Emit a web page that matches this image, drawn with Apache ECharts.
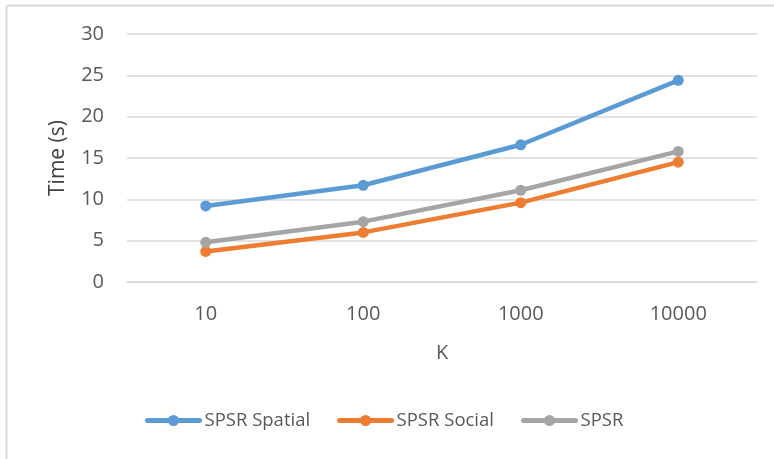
<!DOCTYPE html>
<html>
<head>
<meta charset="utf-8">
<script src="https://cdn.jsdelivr.net/npm/echarts@6/dist/echarts.min.js"></script>
<style>
  html, body { margin: 0; padding: 0; background: #fff; }
  #chart { width: 774px; height: 459px; }
</style>
</head>
<body>
<div id="chart"></div>
<script>
// Categories on the x axis (K values)
const kValues = ['10', '100', '1000', '10000'];

// Running time in seconds for each method
const spsrSpatial = [9.2, 11.7, 16.6, 24.4];
const spsrSocial = [3.7, 6.0, 9.6, 14.5];
const spsr = [4.8, 7.3, 11.1, 15.8];

const seriesNames = ['SPSR Spatial', 'SPSR Social', 'SPSR'];

const FONT = '"Open Sans", sans-serif';
const TEXT = '#595959';
const GRID = '#D9D9D9';

function lineSeries(name, data, color) {
  return {
    name: name,
    type: 'line',
    data: data,
    symbol: 'circle',
    symbolSize: 11,
    lineStyle: { width: 4.5, color: color, cap: 'round' },
    itemStyle: { color: color },
    emphasis: { disabled: true }
  };
}

const chart = echarts.init(document.getElementById('chart'), null, { renderer: 'canvas' });

chart.setOption({
  animation: false,
  backgroundColor: '#ffffff',
  textStyle: { fontFamily: FONT },
  grid: { left: 127, right: 17, top: 34, bottom: 177, containLabel: false },
  graphic: [
    { type: 'line', shape: { x1: 6.5, y1: 5.5, x2: 6.5, y2: 459 }, style: { stroke: GRID, lineWidth: 2 } },
    { type: 'line', shape: { x1: 6.5, y1: 5.5, x2: 774, y2: 5.5 }, style: { stroke: GRID, lineWidth: 2 } }
  ],
  legend: {
    data: seriesNames,
    bottom: 29,
    left: 145,
    padding: 0,
    itemWidth: 52,
    itemHeight: 14,
    itemGap: 27,
    lineStyle: { width: 5, cap: 'round' },
    textStyle: { color: TEXT, fontSize: 18.5, fontFamily: FONT }
  },
  xAxis: {
    type: 'category',
    data: kValues,
    boundaryGap: true,
    name: 'K',
    nameLocation: 'middle',
    nameGap: 61,
    nameTextStyle: { color: TEXT, fontSize: 20, fontFamily: FONT },
    axisLine: { show: true, lineStyle: { color: GRID, width: 1.5 } },
    axisTick: { show: false },
    axisLabel: { color: TEXT, fontSize: 20, margin: 22, fontFamily: FONT }
  },
  yAxis: {
    type: 'value',
    min: 0,
    max: 30,
    interval: 5,
    name: 'Time (s)',
    nameLocation: 'middle',
    nameGap: 58,
    nameRotate: 90,
    nameTextStyle: { color: '#404040', fontSize: 21, fontFamily: FONT },
    axisLine: { show: false },
    axisTick: { show: false },
    axisLabel: { color: TEXT, fontSize: 20, margin: 23, fontFamily: FONT },
    splitLine: { lineStyle: { color: GRID, width: 1.5 } }
  },
  series: [
    lineSeries(seriesNames[0], spsrSpatial, '#5B9BD5'),
    lineSeries(seriesNames[1], spsrSocial, '#ED7D31'),
    lineSeries(seriesNames[2], spsr, '#A5A5A5')
  ]
});
</script>
</body>
</html>
